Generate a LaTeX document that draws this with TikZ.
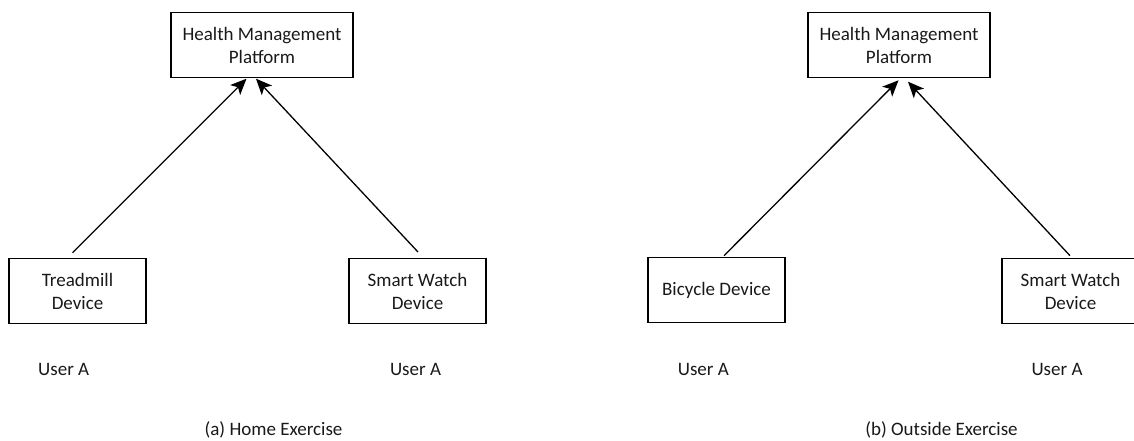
\documentclass[tikz,border=0pt]{standalone}
\usepackage{fontspec}
\setmainfont{Carlito}
\usetikzlibrary{arrows.meta}
\tikzset{
  x=1pt,y=-1pt,
  devbox/.style={draw=black,line width=1.4pt,inner sep=0pt,align=center,minimum height=65pt,font=\fontsize{19}{23}\selectfont,text=black!90},
  topbox/.style={devbox,minimum width=182pt},
  lowbox/.style={devbox,minimum width=137pt},
  lab/.style={inner sep=0pt,font=\fontsize{19}{23}\selectfont,text=black!90},
  link/.style={draw=black,line width=1.3pt,-{Stealth[length=16pt,width=14pt,inset=4pt]}}
}
\begin{document}
\begin{tikzpicture}
\useasboundingbox (0,0) rectangle (1134,440);
% left panel
\node[topbox] (ph) at (262,45) {Health Management\\Platform};
\node[lowbox] (tm) at (77.5,291) {Treadmill\\Device};
\node[lowbox] (sw) at (417.5,291) {Smart Watch\\Device};
\node[lab] (ua1) at (63.7,369) {User A};
\node[lab] (ua2) at (415.5,369) {User A};
\node[lab] (cap1) at (273.5,430) {(a) Home Exercise};
\coordinate (s1) at (72.5,252.7);
\coordinate (t1) at (246.5,78.7);
\coordinate (s2) at (418,252);
\coordinate (t2) at (256,78.7);
\draw[link] (s1) -- (t1);
\draw[link] (s2) -- (t2);
% right panel
\node[topbox] (qh) at (899,45) {Health Management\\Platform};
\node[lowbox] (bk) at (716.5,290) {Bicycle Device};
\node[lowbox] (sx) at (1070.5,291) {Smart Watch\\Device};
\node[lab] (ub1) at (703.3,369) {User A};
\node[lab] (ub2) at (1057,369) {User A};
\node[lab] (cap2) at (941.5,430) {(b) Outside Exercise};
\coordinate (s3) at (724,255.7);
\coordinate (t3) at (898.5,80.3);
\coordinate (s4) at (1070,255.7);
\coordinate (t4) at (908,81.7);
\draw[link] (s3) -- (t3);
\draw[link] (s4) -- (t4);
\end{tikzpicture}
\end{document}
